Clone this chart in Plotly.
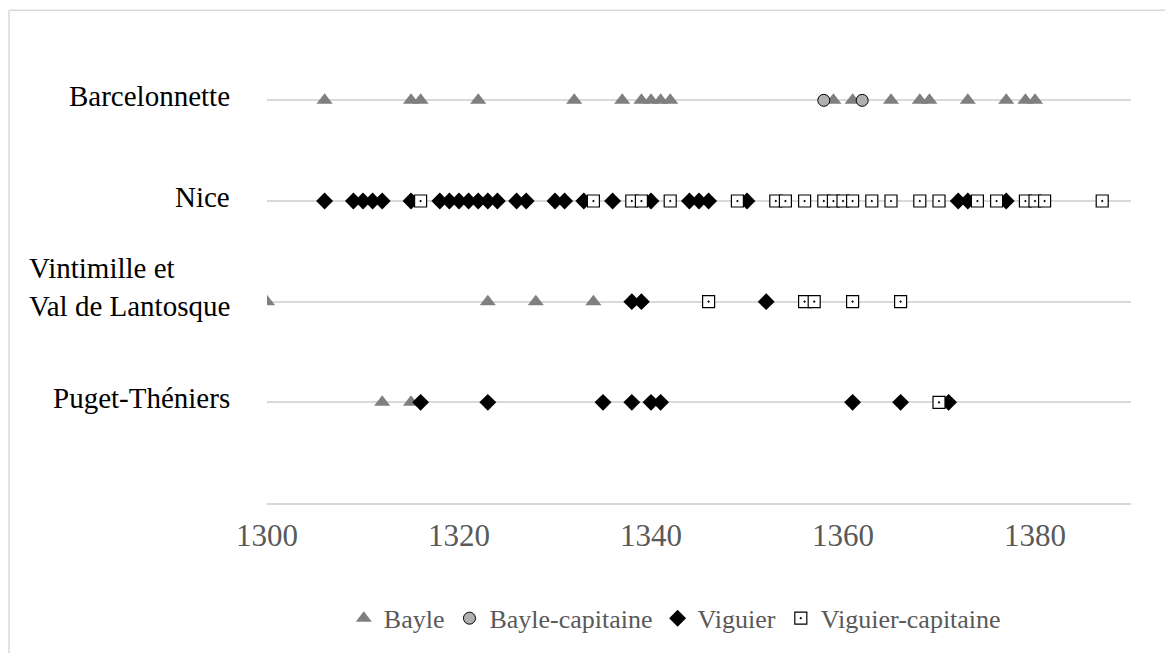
import plotly.graph_objects as go

regions = ["Puget-Théniers", "Vintimille et Val de Lantosque", "Nice", "Barcelonnette"]
region_labels = ["Puget-Théniers", "Vintimille et<br>Val de Lantosque", "Nice", "Barcelonnette"]

# years per office, per region
bayle = {
    "Barcelonnette": [1306, 1315, 1316, 1322, 1332, 1337, 1339, 1340, 1341, 1342,
                      1359, 1361, 1365, 1368, 1369, 1373, 1377, 1379, 1380],
    "Vintimille et Val de Lantosque": [1300, 1323, 1328, 1334],
    "Puget-Théniers": [1312, 1315],
}
bayle_cap = {
    "Barcelonnette": [1358, 1362],
}
viguier = {
    "Nice": [1306, 1309, 1310, 1311, 1312, 1315, 1318, 1319, 1320, 1321, 1322, 1323,
             1324, 1326, 1327, 1330, 1331, 1333, 1336, 1340, 1344, 1345, 1346, 1350,
             1372, 1373, 1377],
    "Vintimille et Val de Lantosque": [1338, 1339, 1352],
    "Puget-Théniers": [1316, 1323, 1335, 1338, 1340, 1341, 1361, 1366, 1371],
}
viguier_cap = {
    "Nice": [1316, 1334, 1338, 1339, 1342, 1349, 1353, 1354, 1356, 1358, 1359, 1360,
             1361, 1363, 1365, 1368, 1370, 1374, 1376, 1379, 1380, 1381, 1387],
    "Vintimille et Val de Lantosque": [1346, 1356, 1357, 1361, 1366],
    "Puget-Théniers": [1370],
}

tick_years = [1300, 1320, 1340, 1360, 1380]


def flatten(d):
    xs, ys = [], []
    for r, yrs in d.items():
        xs += yrs
        ys += [regions.index(r) + 1] * len(yrs)
    return xs, ys


series = [
    ("Bayle", bayle, dict(symbol="triangle-up", size=14, color="#7f7f7f")),
    ("Bayle-capitaine", bayle_cap, dict(symbol="circle", size=12, color="#b0b0b0",
                                        line=dict(color="black", width=1))),
    ("Viguier", viguier, dict(symbol="diamond", size=13, color="black")),
    ("Viguier-capitaine", viguier_cap, dict(symbol="square-dot", size=12, color="white",
                                            line=dict(color="black", width=1.2))),
]

fig = go.Figure()
for name, d, mk in series:
    xs, ys = flatten(d)
    fig.add_trace(go.Scatter(x=xs, y=ys, mode="markers", name=name, marker=mk))

# region labels on the left, lines left-aligned
for i, lab in enumerate(region_labels):
    fig.add_annotation(x=-0.0405, y=i + 1, xref="paper", yref="y", text=lab,
                       showarrow=False, xanchor="right", align="left",
                       yshift=15 if "<br>" in lab else 4,
                       font=dict(family="Liberation Serif", size=29, color="black"))

# chart border (left and top)
fig.add_shape(type="line", xref="paper", yref="paper", x0=-0.2986, x1=1.1,
              y0=1.088, y1=1.088, line=dict(color="#d9d9d9", width=1.5))
fig.add_shape(type="line", xref="paper", yref="paper", x0=-0.2986, x1=-0.2986,
              y0=1.088, y1=-0.4, line=dict(color="#d9d9d9", width=1.5))

fig.update_layout(
    width=1165, height=645,
    margin=dict(l=259, r=42, t=42, b=149),
    plot_bgcolor="white", paper_bgcolor="white",
    font=dict(family="Liberation Serif", size=20, color="#595959"),
    legend=dict(orientation="h", x=0.472, xanchor="center", y=-0.2, yanchor="top",
                font=dict(size=26, color="#595959")),
    xaxis=dict(range=[1300, 1390], tickvals=tick_years, showgrid=False,
               showline=True, linecolor="#d9d9d9", linewidth=1.5, zeroline=False,
               ticks="", ticklabelstandoff=4, tickfont=dict(size=31)),
    yaxis=dict(range=[0, 4.5], tickvals=[1, 2, 3, 4], showticklabels=False,
               showgrid=True, gridcolor="#d9d9d9", gridwidth=1.5, zeroline=False,
               showline=False),
)

fig.write_html("out.html")
